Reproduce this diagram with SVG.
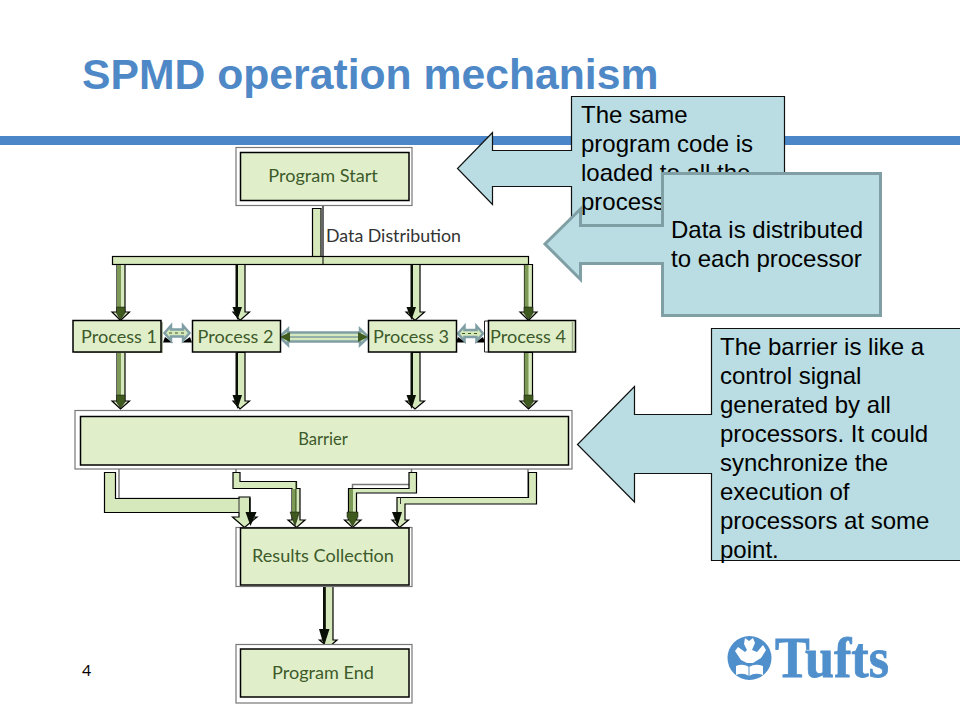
<svg xmlns="http://www.w3.org/2000/svg" width="960" height="720" viewBox="0 0 960 720">
<style>
.b{font-family:"Lato","Carlito","Open Sans",sans-serif;font-size:18.100px;fill:#3d5a2a;text-anchor:middle}
.c{font-family:"Liberation Sans",Arial,sans-serif;font-size:24px;fill:#000}
.box{fill:#e0efca;stroke:#000;stroke-width:1.5}
.out{fill:#fff;stroke:#777;stroke-width:1.2}
.p{fill:#d6e9bc;stroke:#000;stroke-width:1.2}
.h{fill:#e2f0cf;stroke:#333;stroke-width:.8}
.dark{fill:#3f5a1e;stroke:#111;stroke-width:.5}
.strip{fill:#7c9a55}
.blk{fill:#0a0f05}
.call{fill:#b9dde2;stroke:#111;stroke-width:1.2}
.call2{fill:#b9dde2;stroke:#7f9fa5;stroke-width:3}
.g{fill:none;stroke:#777;stroke-width:1.5}
.dbl{fill:#d6e9bc;stroke:#7f9fa5;stroke-width:2.5}
</style>
<rect width="960" height="720" fill="#fff"/>
<rect id="header-bar" x="0" y="136" width="960" height="9" fill="#4a86c8"/>
<text id="title" x="82" y="89" font-family="Liberation Sans,Arial,sans-serif" font-weight="700" font-size="42.700px" fill="#4f88c6">SPMD operation mechanism</text>

<g id="connectors">
<path class="p" d="M312.500 208.500H321V256.500H312.500Z"/>
<path d="M323 205V264" stroke="#000" stroke-width="1.2" fill="none"/>
<rect class="p" x="112.500" y="256.500" width="416" height="8"/>
<path d="M323 256.500V264.500" stroke="#000" stroke-width="1"/>

<g id="drops">
<path class="p" d="M117 264.500H125V312H129.500L120.500 320.500L112 312H117Z"/>
<rect class="strip" x="117" y="265" width="4" height="43"/>
<path class="dark" d="M116.500 307H125V313L120.500 320L116.500 313Z"/>

<path class="p" d="M237 264.500H245V312H249.500L240 320.500L233 312H237Z"/>
<rect class="blk" x="235.500" y="264.500" width="2.500" height="43"/>
<path class="blk" d="M232.500 307H242L237.500 320Z"/>

<path class="p" d="M412 264.500H420V312H424.500L415 320.500L406 312H412Z"/>
<rect class="blk" x="410.500" y="264.500" width="2.500" height="43"/>
<path class="blk" d="M406.500 307H416L411.500 320Z"/>

<path class="p" d="M524.500 264.500H532.500V312H537L528.500 320.500L520 312H524.500Z"/>
<rect class="strip" x="524.500" y="265" width="4" height="43"/>
<path class="dark" d="M524 307H533V313L528.500 320L524 313Z"/>

<path class="p" d="M117 352.500H125V401H129.500L120.500 409L112 401H117Z"/>
<rect class="strip" x="117" y="353" width="4" height="43"/>
<path class="dark" d="M116.500 395H125V402L120.500 408L116.500 402Z"/>

<path class="p" d="M237 352.500H245V401H249.500L240 409L233 401H237Z"/>
<rect class="blk" x="235.500" y="352.500" width="2.500" height="43"/>
<path class="blk" d="M232.500 395H242L237.500 409Z"/>

<path class="p" d="M412 352.500H420V401H424.500L415 409L406 401H412Z"/>
<rect class="blk" x="410.500" y="352.500" width="2.500" height="43"/>
<path class="blk" d="M406.500 395H416L411.500 409Z"/>

<path class="p" d="M524.500 352.500H532.500V401H537L528.500 409L520 401H524.500Z"/>
<rect class="strip" x="524.500" y="353" width="4" height="43"/>
<path class="dark" d="M524 395H533V402L528.500 408L524 402Z"/>
</g>

<g id="merge">
<path class="g" d="M119 469V498.500H250"/>
<path class="p" d="M104.500 472.500H115.500V498.500H239V497H250V517H257L244.500 527.500L232.500 517H239V512.500H104.500Z"/>
<path d="M239 498V512" stroke="#333" stroke-width="1"/>
<path class="blk" d="M249 498H250.500V512H256.500L250.500 526L245.500 512H249Z"/>

<path class="g" d="M236 469V481"/>
<path class="p" d="M233 472.500H240V481.500H296.500V488.500H300V520H305L296.500 527.500L288 520H292V488.500H233Z"/>
<rect class="strip" x="292" y="489" width="4" height="24"/>
<path d="M296 481.500V512" stroke="#2f4a16" stroke-width="1"/>
<path class="dark" d="M290 512H299.500L295 526Z"/>

<path class="g" d="M411.500 469V484.500H352.500V490"/>
<path class="p" d="M409 472.500H416.500V493H356.500V520H361L352.500 527.500L344.500 520H348.500V488.500H409Z"/>
<rect class="strip" x="349" y="489" width="4" height="24"/>
<path class="dark" d="M347 512H358V517L352.500 526L347 517Z"/>

<path class="g" d="M528 469V498H401"/>
<path class="p" d="M528.500 472.500H536.500V504H405V520H408.500L399.500 527.500L392 520H397V497.500H528.500Z"/>
<path class="blk" d="M392 512H402L397.500 526Z"/>
<path d="M400.500 497.500V504" stroke="#333" stroke-width="1"/>

<path class="p" d="M324.500 585.500H333V640H337L328.500 647.500L319.500 640H324.500Z"/>
<rect class="blk" x="323" y="585.500" width="2.800" height="44"/>
<path class="blk" d="M319 629H329.500L324 646Z"/>
</g>

<g id="bidir">
<path d="M165 337L173 342.500H163Z M190 337L182 342.500H192Z" fill="#000"/>
<path class="dbl" d="M164.500 333L171 325.500V329.500H183V325.500L189.500 333L183 340.500V336.500H171V340.500Z"/>
<path d="M169 333H185" stroke="#3f5a1e" stroke-width="1" stroke-dasharray="3 3"/>

<path class="dbl" d="M279.500 337L288 329V332.500H360V329L368.500 337L360 345V341.500H288V345Z"/>
<path d="M286 337H362" stroke="#7f9fa5" stroke-width="1.500"/>
<path d="M280 337L290 332V342Z M368 337L358 332V342Z" fill="#3f5a1e"/>

<path d="M458 337L466 342.500H456Z M483 337L475 342.500H485Z" fill="#000"/>
<path class="dbl" d="M458 333.500L464.500 326V330H476.500V326L483 333.500L476.500 341V337H464.500V341Z"/>
<path d="M462 333.500H479" stroke="#3f5a1e" stroke-width="1" stroke-dasharray="3 3"/>
</g>
</g>

<g id="program-start">
<rect class="out" x="236" y="147.500" width="176" height="58"/>
<rect class="box" x="240.500" y="152.500" width="168.500" height="48"/>
<text class="b" x="323" y="182">Program Start</text>
</g>
<g id="process-1">
<rect x="75" y="322" width="88" height="31" fill="#a9b89a"/>
<rect class="box" x="73" y="320.500" width="88" height="31.500"/>
<text class="b" x="119" y="343">Process 1</text>
</g>
<g id="process-2">
<rect class="box" x="192.500" y="320.500" width="88" height="31.500"/>
<text class="b" x="235.500" y="343">Process 2</text>
</g>
<g id="process-3">
<rect class="box" x="368.500" y="320.500" width="88" height="31.500" stroke-width="2"/>
<text class="b" x="411" y="343">Process 3</text>
</g>
<g id="process-4">
<path d="M488 321H484.500V352H488" fill="none" stroke="#222" stroke-width="1"/>
<rect class="box" x="488.500" y="320.500" width="87" height="31.500"/>
<path d="M572.500 322V351" stroke="#9aa98a" stroke-width="1.500"/>
<text class="b" x="528" y="343">Process 4</text>
</g>
<g id="barrier">
<rect class="out" x="75" y="410.500" width="497" height="58.500"/>
<rect class="box" x="80.500" y="416.500" width="488" height="48.500"/>
<text class="b" x="323" y="445" font-size="16.600px" style="font-size:16.600px">Barrier</text>
</g>
<g id="results-collection">
<rect class="out" x="236" y="527.500" width="176" height="59"/>
<rect class="box" x="240.500" y="528" width="168.500" height="57" stroke-width="1.800"/>
<text class="b" x="323" y="562">Results Collection</text>
</g>
<g id="program-end">
<rect class="out" x="236" y="644.500" width="176" height="58.500"/>
<rect class="box" x="240.500" y="649" width="168.500" height="48"/>
<text class="b" x="323" y="679">Program End</text>
</g>
<text id="data-distribution" x="326" y="242" font-family="Lato,Carlito,sans-serif" font-size="17.800px" fill="#333">Data Distribution</text>
<text id="page-number" x="82" y="676" font-family="Lato,Carlito,sans-serif" font-size="16px" fill="#000">4</text>

<g id="callout-1">
<path class="call" d="M571.500 96.500H784.500V226H571.500V186.500H492.500V204.500L457.500 168.500L492.500 132.500V150.500H571.500Z"/>
<text class="c"><tspan x="581" y="123">The same</tspan><tspan x="581" y="152">program code is</tspan><tspan x="581" y="181">loaded to all the</tspan><tspan x="581" y="210">processors.</tspan></text>
</g>
<g id="callout-2">
<path class="call2" d="M662.500 173.500H880.500V315.500H662.500V263.500H580.500V279.500L545 244L580.500 209V225.500H662.500Z"/>
<text class="c"><tspan x="671" y="238">Data is distributed</tspan><tspan x="671" y="267">to each processor</tspan></text>
</g>
<g id="callout-3">
<path class="call" d="M711.500 328.500H962V560.500H711.500V473.500H634.500V502L577.500 444.500L634.500 386.500V414.500H711.500Z"/>
<text class="c"><tspan x="720" y="355">The barrier is like a</tspan><tspan x="720" y="384">control signal</tspan><tspan x="720" y="413">generated by all</tspan><tspan x="720" y="442">processors. It could</tspan><tspan x="720" y="471">synchronize the</tspan><tspan x="720" y="500">execution of</tspan><tspan x="720" y="529">processors at some</tspan><tspan x="720" y="558">point.</tspan></text>
</g>

<g id="tufts-logo">
<circle cx="749.500" cy="658" r="22" fill="#4f8fcc"/>
<path d="M745 638L749 641L753 638L755 643L752 650L757 652L763 645L766 650L761 658L753 663H747L741 660L735 651L738 647L745 652L747 650L744 644Z" fill="#fff"/>
<path d="M736 666Q743 663 749 667Q755 663 763 666V675Q755 672 749 676Q743 672 736 675Z" fill="#fff"/>
<path d="M749 667V676" stroke="#4f8fcc" stroke-width="1"/>
<text x="775" y="677" font-family="Liberation Serif,serif" font-weight="700" font-size="56px" fill="#4f8fcc" stroke="#4f8fcc" stroke-width=".8" textLength="114" lengthAdjust="spacingAndGlyphs">Tufts</text>
</g>
</svg>
